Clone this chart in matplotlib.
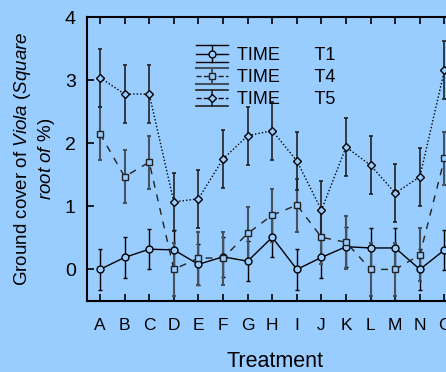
import matplotlib
matplotlib.use("Agg")
from matplotlib import pyplot as plt
from matplotlib.lines import Line2D
from matplotlib.legend_handler import HandlerBase

plt.rcParams['font.family'] = ['Liberation Sans', 'DejaVu Sans']
plt.rcParams['mathtext.fontset'] = 'custom'
plt.rcParams['mathtext.it'] = 'Liberation Sans:italic'
plt.rcParams['mathtext.rm'] = 'Liberation Sans'

treatments = ["A", "B", "C", "D", "E", "F", "G", "H", "I", "J", "K", "L", "M", "N", "O"]

t1_mean = [0.0, 0.19, 0.32, 0.31, 0.08, 0.20, 0.13, 0.51, 0.0, 0.19, 0.36, 0.34, 0.34, 0.0, 0.31]
t1_err = [0.32] * 15

t4_mean = [2.15, 1.47, 1.70, 0.0, 0.18, 0.18, 0.57, 0.86, 1.02, 0.51, 0.43, 0.0, 0.0, 0.23, 1.76]
t4_err = [0.42] * 15

t5_mean = [3.04, 2.78, 2.78, 1.07, 1.12, 1.75, 2.12, 2.20, 1.72, 0.94, 1.94, 1.65, 1.21, 1.47, 3.16]
t5_err = [0.46] * 15

legend_labels = ["TIME       T1", "TIME       T4", "TIME       T5"]

BG = '#99ccff'


class ErrHandler(HandlerBase):
    # legend handle: line + marker, vertical bar and wide caps
    def __init__(self, ecolor, elw):
        super().__init__()
        self.ecolor = ecolor
        self.elw = elw

    def create_artists(self, legend, orig, xdescent, ydescent, width, height, fontsize, trans):
        x0, x1 = -xdescent, width - xdescent
        xm = (x0 + x1) / 2
        yb, yt = -ydescent, height - ydescent
        yc = (yb + yt) / 2
        main = Line2D([x0, x1], [yc, yc], color=orig.get_color(), linestyle=orig.get_linestyle(),
                      linewidth=orig.get_linewidth())
        vert = Line2D([xm, xm], [yb, yt], color=self.ecolor, linewidth=self.elw)
        top = Line2D([x0, x1], [yt, yt], color=self.ecolor, linewidth=self.elw)
        bot = Line2D([x0, x1], [yb, yb], color=self.ecolor, linewidth=self.elw)
        mark = Line2D([xm], [yc], marker=orig.get_marker(), markersize=orig.get_markersize(),
                      markerfacecolor=BG, markeredgecolor=orig.get_color(), linestyle='none')
        arts = [main, vert, top, bot, mark]
        for a in arts:
            a.set_transform(trans)
        return arts


fig = plt.figure(figsize=(4.46, 3.72), dpi=100)
fig.patch.set_facecolor(BG)
ax = fig.add_axes([0.195, 0.191, 0.843, 0.763])
ax.set_facecolor(BG)

x = list(range(len(treatments)))

series = [
    (t1_mean, t1_err, 'o', 5.0, '-', 'black', 'black', 1.0),
    (t4_mean, t4_err, 's', 4.8, (0, (5, 5)), '#222222', '#46525e', 1.5),
    (t5_mean, t5_err, 'D', 4.0, (0, (1, 1.5)), 'black', '#222222', 1.2),
]

handles = []
hmap = {}
for mean, err, mk, ms, ls, col, ecol, elw in series:
    ax.errorbar(x, mean, yerr=err, fmt='none', ecolor=ecol, elinewidth=elw, capsize=1.2,
                capthick=elw, zorder=2)
    ax.plot(x, mean, linestyle=ls, color=col, linewidth=1.0, marker=mk, markersize=ms,
            markerfacecolor=BG, markeredgecolor=col, markeredgewidth=1.0, zorder=3)
    h = Line2D([], [], linestyle=ls, color=col, linewidth=1.0, marker=mk, markersize=ms)
    handles.append(h)
    hmap[h] = ErrHandler(ecol, elw)

ax.set_xlim(-0.53, 14.75)
ax.set_ylim(-0.5, 4)
ax.set_xticks(x)
ax.set_xticklabels(treatments, fontsize=12.5)
ax.set_yticks([0, 1, 2, 3, 4])
ax.tick_params(axis='x', direction='in', top=True, length=5, width=1.2, pad=12)
ax.tick_params(axis='y', direction='in', length=5, width=1.2, pad=8, labelsize=14)
for s in ['left', 'top', 'bottom']:
    ax.spines[s].set_linewidth(1.5)
ax.spines['right'].set_visible(False)

ax.set_xlabel("Treatment", fontsize=15.5, labelpad=13)
ax.set_ylabel("Ground cover of $\\mathit{Viola\\ (Square}$\n$\\mathit{root\\ of\\ \\%)}$",
              fontsize=13.5, linespacing=1.15, labelpad=6)

ax.legend(handles, legend_labels, handler_map=hmap, loc='upper left', bbox_to_anchor=(0.29, 0.9),
          frameon=False, fontsize=13, handlelength=1.75, handleheight=1.0, handletextpad=0.5,
          labelspacing=0.22, borderpad=0, borderaxespad=0)

fig.savefig("out.png", dpi=100, facecolor=BG)
